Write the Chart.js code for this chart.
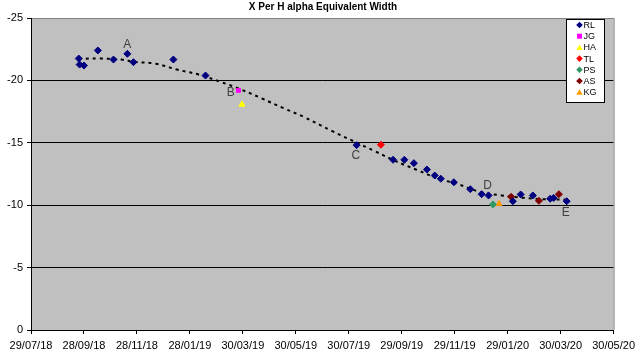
<!DOCTYPE html>
<html>
<head>
<meta charset="utf-8">
<script src="https://cdn.jsdelivr.net/npm/chart.js@4/dist/chart.umd.min.js"></script>
<style>
html,body{margin:0;padding:0;background:#fff;}
#wrap{width:640px;height:355px;}
</style>
</head>
<body>
<div id="wrap"><canvas id="c" width="640" height="355"></canvas></div>
<script>
// Dates are days after 29/07/18
const chartTitle = 'X Per H alpha Equivalent Width';
const tickLabels = ['29/07/18','28/09/18','28/11/18','28/01/19','30/03/19','30/05/19','30/07/19','29/09/19','29/11/19','29/01/20','30/03/20','30/05/20'];

const rlDays = [55, 56, 61, 77, 95, 111, 118, 164, 201, 375, 417, 430, 441, 456, 465, 472, 487, 506, 519, 527, 555, 564, 578, 598, 602, 617];
const rlVals = [-21.75, -21.27, -21.19, -22.4, -21.67, -22.13, -21.46, -21.67, -20.39, -14.81, -13.64, -13.64, -13.37, -12.86, -12.38, -12.12, -11.84, -11.28, -10.88, -10.78, -10.32, -10.86, -10.78, -10.52, -10.58, -10.32];
const jgDays = [239];
const jgVals = [-19.2];
const haDays = [243];
const haVals = [-18.07];
const tlDays = [403];
const tlVals = [-14.84];
const psDays = [532];
const psVals = [-10.06];
const asDays = [553, 585, 608];
const asVals = [-10.67, -10.35, -10.88];
const kgDays = [539];
const kgVals = [-10.11];

// trendline
const trendDays = [55, 79, 104, 119, 144, 168, 193, 218, 242, 266, 291, 314, 347, 372, 396, 420, 444, 469, 493, 517, 542, 567, 590, 615];
const trendVals = [-21.73, -21.75, -21.67, -21.49, -21.33, -20.87, -20.47, -19.89, -19.27, -18.55, -17.77, -17.08, -15.93, -15.11, -14.33, -13.53, -12.84, -12.14, -11.66, -11.07, -10.78, -10.59, -10.48, -10.46];

const noteLabels = ['A', 'B', 'C', 'D', 'E'];
const noteDays = [111, 230, 374, 526, 616];
const noteVals = [-22.85, -19.0, -13.96, -11.6, -9.39];

function pts(d, v){ return d.map((x,i)=>({x:x, y:v[i]})); }

const series = [
  {label:'RL', d:rlDays, v:rlVals, color:'#000080', style:'rectRot', r:3.5},
  {label:'JG', d:jgDays, v:jgVals, color:'#FF00FF', style:'rect', r:2.8},
  {label:'HA', d:haDays, v:haVals, color:'#FFFF00', style:'triangle', r:3.5},
  {label:'TL', d:tlDays, v:tlVals, color:'#FF0000', style:'rectRot', r:3.5},
  {label:'PS', d:psDays, v:psVals, color:'#339966', style:'rectRot', r:3.5},
  {label:'AS', d:asDays, v:asVals, color:'#800000', style:'rectRot', r:3.5},
  {label:'KG', d:kgDays, v:kgVals, color:'#FF9900', style:'triangle', r:3.5}
];

const datasets = [{
  label:'trend', data: pts(trendDays, trendVals), showLine:true, borderColor:'#000000',
  borderWidth:2, borderDash:[3,4], pointRadius:0, tension:0.4, fill:false, order:10
}];
series.forEach(s=>{
  datasets.push({label:s.label, data:pts(s.d,s.v), pointStyle:s.style, pointRadius:s.r, pointHoverRadius:s.r,
    backgroundColor:s.color, borderColor:s.color, borderWidth:1, showLine:false, order:1});
});

const bgPlugin = {
  id:'bg',
  beforeDraw(chart){
    const {ctx, chartArea:a} = chart;
    ctx.save();
    ctx.fillStyle='#ffffff'; ctx.fillRect(0,0,chart.width,chart.height);
    ctx.fillStyle='#c0c0c0'; ctx.fillRect(a.left,a.top,a.right-a.left,a.bottom-a.top);
    ctx.restore();
  },
  afterDatasetsDraw(chart){
    const {ctx, chartArea:a, scales} = chart;
    ctx.save();
    ctx.strokeStyle='#808080'; ctx.lineWidth=1;
    ctx.beginPath(); ctx.moveTo(a.right+0.5,a.top); ctx.lineTo(a.right+0.5,a.bottom); ctx.stroke();
    // notes
    ctx.fillStyle='#404040'; ctx.font='12px "Liberation Sans", Arial, sans-serif';
    ctx.textAlign='center'; ctx.textBaseline='middle';
    noteLabels.forEach((t,i)=>{
      ctx.fillText(t, scales.x.getPixelForValue(noteDays[i]), scales.y.getPixelForValue(noteVals[i]));
    });
    // title
    ctx.fillStyle='#000000'; ctx.font='bold 10px "Liberation Sans", Arial, sans-serif';
    ctx.fillText(chartTitle, 323, 7);
    // legend
    const lx=566.5, ly=19.5, lw=38, lh=83;
    ctx.fillStyle='#ffffff'; ctx.fillRect(lx,ly,lw,lh);
    ctx.strokeStyle='#000000'; ctx.lineWidth=1; ctx.strokeRect(lx,ly,lw,lh);
    ctx.font='9px "Liberation Sans", Arial, sans-serif'; ctx.textAlign='left';
    series.forEach((s,i)=>{
      const y = 25 + i*11.2, x = 579.5;
      ctx.fillStyle=s.color; ctx.strokeStyle=s.color;
      ctx.beginPath();
      if(s.style==='rectRot'){ ctx.moveTo(x,y-3.3); ctx.lineTo(x+3.3,y); ctx.lineTo(x,y+3.3); ctx.lineTo(x-3.3,y); ctx.closePath(); }
      else if(s.style==='rect'){ ctx.rect(x-2.5,y-2.5,5,5); }
      else { ctx.moveTo(x,y-3); ctx.lineTo(x+3.2,y+2.5); ctx.lineTo(x-3.2,y+2.5); ctx.closePath(); }
      ctx.fill();
      ctx.fillStyle='#000000';
      ctx.fillText(s.label, x+4, y+0.5);
    });
    ctx.restore();
  }
};

new Chart(document.getElementById('c'), {
  type:'scatter',
  data:{datasets},
  plugins:[bgPlugin],
  options:{
    responsive:false, animation:false,
    layout:{padding:{top:18, right:24, left:0, bottom:0}},
    plugins:{legend:{display:false}, title:{display:false}, tooltip:{enabled:false}},
    scales:{
      x:{type:'linear', min:0, max:671,
        afterBuildTicks(s){ s.ticks = tickLabels.map((l,i)=>({value:i*61})); },
        afterFit(s){ s.height=25; },
        grid:{drawOnChartArea:false, drawTicks:true, tickLength:4, color:'#000000', tickColor:'#000000'},
        border:{display:true, color:'#000000'},
        ticks:{autoSkip:false, maxRotation:0, padding:5, color:'#000000', font:{family:'"Liberation Sans", Arial, sans-serif', size:11},
          callback:(v,i)=>tickLabels[i]}
      },
      y:{type:'linear', min:-25, max:0, reverse:true,
        afterFit(s){ s.width=31; },
        grid:{color:(c)=> (c.tick && c.tick.value===-25) ? '#808080' : '#000000', tickColor:'#000000', tickLength:4, drawTicks:true},
        border:{display:true, color:'#000000'},
        ticks:{stepSize:5, padding:4, color:'#000000', font:{family:'"Liberation Sans", Arial, sans-serif', size:11}}
      }
    }
  }
});
</script>
</body>
</html>
